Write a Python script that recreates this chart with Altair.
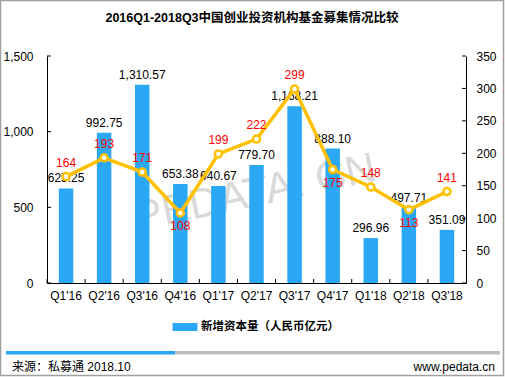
import altair as alt
import pandas as pd

# ---------------- data ----------------
quarters = ["Q1'16", "Q2'16", "Q3'16", "Q4'16", "Q1'17", "Q2'17", "Q3'17", "Q4'17", "Q1'18", "Q2'18", "Q3'18"]
capital = [625.25, 992.75, 1310.57, 653.38, 640.67, 779.70, 1168.21, 888.10, 296.96, 497.71, 351.09]
fund_count = [164, 193, 171, 108, 199, 222, 299, 175, 148, 113, 141]
count_label_side = ["above", "above", "above", "below", "above", "above", "above", "below", "above", "below", "above"]
left_ticks = [0, 500, 1000, 1500]
right_ticks = [0, 50, 100, 150, 200, 250, 300, 350]
series_name = "新增资本量（人民币亿元）"
title_text = "2016Q1-2018Q3中国创业投资机构基金募集情况比较"
source_text = "来源：私募通 2018.10"
site_text = "www.pedata.cn"

df = pd.DataFrame({
    "quarter": quarters,
    "capital": capital,
    "count": fund_count,
    "side": count_label_side,
    "series": [series_name] * len(quarters),
})
df["capital_label"] = df["capital"].map(lambda v: f"{v:,.2f}")

W, H = 419, 227
FONT = "Liberation Sans, Arial, Noto Sans CJK SC"
BAR_COLOR = "#2AA8F5"
LINE_COLOR = "#FFC000"

one = pd.DataFrame({"k": [0]})

xenc = alt.X("quarter:N", sort=quarters, title=None,
             scale=alt.Scale(paddingInner=0.62, paddingOuter=0.31),
             axis=alt.Axis(labelAngle=0, labelFontSize=12, labelColor="#000000", labelFont=FONT,
                           domainColor="#000000", ticks=False, labelPadding=7))

left_axis = alt.Axis(values=left_ticks, format=",.0f", labelFontSize=12, labelColor="#000000",
                     labelFont=FONT, domainColor="#000000", ticks=False, grid=False, labelPadding=14)
right_axis = alt.Axis(orient="right", values=right_ticks, format=".0f", labelFontSize=12,
                      labelColor="#000000", labelFont=FONT, domainColor="#000000", ticks=False,
                      grid=False, labelPadding=10)
left_scale = alt.Scale(domain=[0, 1500], nice=False)
right_scale = alt.Scale(domain=[0, 350], nice=False)


def ly(field):
    return alt.Y(field, scale=left_scale, title=None, axis=left_axis)


def ry(field):
    return alt.Y(field, scale=right_scale, title=None, axis=right_axis)


base = alt.Chart(df)

bars = base.mark_bar(color=BAR_COLOR).encode(
    x=xenc,
    y=ly("capital:Q"),
    color=alt.Color("series:N", scale=alt.Scale(range=[BAR_COLOR]), title=None,
                    legend=alt.Legend(orient="none", legendX=130, legendY=263,
                                      symbolType="M-1.5625,-0.5H1.5625V0.5H-1.5625Z",
                                      symbolSize=256, symbolStrokeWidth=0,
                                      labelFontSize=11.5, labelFontWeight="bold", labelFont=FONT,
                                      labelColor="#000000", labelOffset=8)),
)

bar_labels = base.mark_text(fontSize=12, font=FONT, color="#000000", baseline="middle", dy=-10).encode(
    x=xenc,
    y=ly("capital:Q"),
    text="capital_label:N",
)

lt_df = pd.DataFrame({"v": left_ticks})
left_tick_marks = alt.Chart(lt_df).mark_rule(color="#000000").encode(
    y=ly("v:Q"),
    x=alt.value(0), x2=alt.value(4),
)

left_layer = alt.layer(bars, left_tick_marks, bar_labels)

line = base.mark_line(color=LINE_COLOR, strokeWidth=3.5).encode(
    x=xenc,
    y=ry("count:Q"),
)
points = base.mark_point(filled=True, fill="#FFFFFF", stroke=LINE_COLOR, strokeWidth=2.5,
                         size=50, opacity=1, shape="circle").encode(
    x=xenc,
    y=ry("count:Q"),
)
red_above = base.transform_filter(alt.datum.side == "above").mark_text(
    fontSize=12, font=FONT, color="#FF0000", baseline="middle", dy=-14).encode(
    x=xenc,
    y=ry("count:Q"),
    text="count:Q",
)
red_below = base.transform_filter(alt.datum.side == "below").mark_text(
    fontSize=12, font=FONT, color="#FF0000", baseline="middle", dy=13).encode(
    x=xenc,
    y=ry("count:Q"),
    text="count:Q",
)
rt_df = pd.DataFrame({"v": right_ticks})
right_tick_marks = alt.Chart(rt_df).mark_rule(color="#000000").encode(
    y=ry("v:Q"),
    x=alt.value(W), x2=alt.value(W - 4),
)
right_layer = alt.layer(line, right_tick_marks, points, red_above, red_below)

x_tick_marks = base.mark_rule(color="#000000", xOffset=-W / len(quarters) / 2).encode(
    x=xenc,
    y=alt.value(H), y2=alt.value(H - 4),
)

watermark = alt.Chart(one).mark_text(
    text="PEDATA. CN", fontSize=42, font=FONT, color="#C0C0C0", opacity=0.6,
    angle=348, align="center", baseline="middle").encode(
    x=alt.value(208), y=alt.value(137))

title = alt.Chart(one).mark_text(
    text=title_text, fontSize=12.5, fontWeight="bold", font=FONT, color="#000000",
    align="center", baseline="middle").encode(x=alt.value(205), y=alt.value(-38))

border = alt.Chart(one).mark_rect(fillOpacity=0, stroke="#A0A0A0", strokeWidth=1.5).encode(
    x=alt.value(-46.5), x2=alt.value(456.5), y=alt.value(-55.5), y2=alt.value(319.5))

bar_blue = alt.Chart(one).mark_rect(color=BAR_COLOR).encode(
    x=alt.value(-41), x2=alt.value(128), y=alt.value(295), y2=alt.value(298.5))
bar_gray = alt.Chart(one).mark_rect(color="#BFBFBF").encode(
    x=alt.value(128), x2=alt.value(453), y=alt.value(295), y2=alt.value(298.5))

src = alt.Chart(one).mark_text(
    text=source_text, fontSize=12, font=FONT, color="#000000", align="left", baseline="middle").encode(
    x=alt.value(-35), y=alt.value(311))
site = alt.Chart(one).mark_text(
    text=site_text, fontSize=12, font=FONT, color="#000000", align="right", baseline="middle").encode(
    x=alt.value(448), y=alt.value(311))

chart = alt.layer(
    watermark, left_layer, right_layer, x_tick_marks, title, border, bar_blue, bar_gray, src, site
).resolve_scale(y="independent").properties(
    width=W, height=H,
    autosize=alt.AutoSizeParams(type="none"),
    padding={"left": 47, "top": 56, "right": 39, "bottom": 94},
    background="#FFFFFF",
).configure_view(stroke=None)

chart.save("out.html", embed_options={"renderer": "svg", "actions": False})
